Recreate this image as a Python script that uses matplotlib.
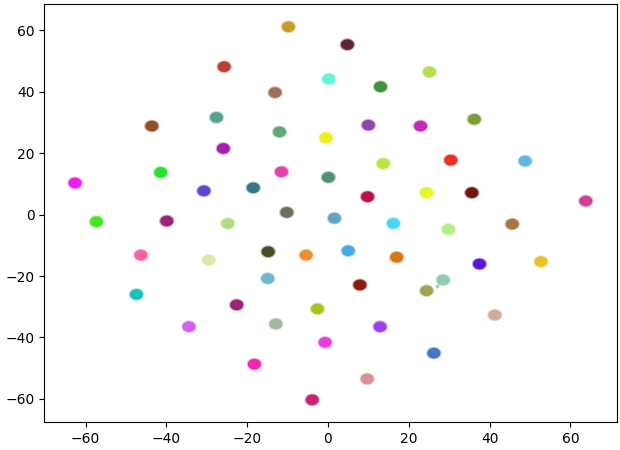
import matplotlib
matplotlib.use("Agg")
import matplotlib.pyplot as plt
from matplotlib.path import Path
import numpy as np

# cluster centres (x, y) and colours
xs = [-25.7, -27.6, -43.6, -25.9, -41.4, -62.6, -30.7,
      -9.8, 4.8, 0.2, 13.0, 25.1, -13.1, -12.0, -0.5, 10.0, 22.9, 13.7, -11.5, 0.1, -18.5, 9.8, 24.4, -10.2,
      36.2, 30.4, 48.8, 35.6, 63.8,
      -57.3, -39.9, -24.8, -46.3, -29.5, -47.4, -22.6, -34.4,
      1.6, 16.2, -14.8, -5.4, 5.0, 17.0, -14.9, 7.9, 24.4, -2.6, -12.9, 12.9, -0.7, -18.2, 9.7, -3.9,
      29.8, 45.6, 37.5, 52.7, 28.5, 41.3, 26.2]
ys = [48.1, 31.6, 28.8, 21.5, 13.7, 10.3, 7.7,
      61.1, 55.3, 44.1, 41.6, 46.4, 39.7, 26.9, 25.0, 29.1, 28.8, 16.6, 13.9, 12.1, 8.7, 5.8, 7.1, 0.7,
      31.0, 17.7, 17.4, 7.1, 4.4,
      -2.3, -2.1, -2.9, -13.2, -14.8, -26.0, -29.4, -36.5,
      -1.2, -2.9, -12.1, -13.2, -11.8, -13.9, -20.8, -22.9, -24.8, -30.7, -35.6, -36.5, -41.6, -48.7, -53.5, -60.3,
      -4.8, -3.1, -16.1, -15.3, -21.3, -32.7, -45.1]
colors = ["#b83a2e", "#4f9e8a", "#8b4a1f", "#a117b0", "#22e02a", "#ee14ee", "#5b3fd0",
          "#c49a20", "#5a1a30", "#5ef5d8", "#3a8f30", "#b3dc4a", "#9a6a55", "#5aa870", "#eeee10",
          "#8a40b0", "#c520b8", "#b5e83a", "#e83aa8", "#4a8f6a", "#2a7380", "#b80a40", "#e5f522", "#6a6a55",
          "#7a9a30", "#e82a1a", "#5ab4e0", "#6a1008", "#d03a90",
          "#3ae818", "#9a1a70", "#a8e080", "#ff5aa0", "#dde8a8", "#10c0b8", "#9a1a70", "#d45ae8",
          "#5a9fc0", "#3ad8f5", "#3a4a1a", "#f08a2a", "#40a8e0", "#d8720a", "#6ab4d0", "#8a1208",
          "#a0a050", "#aac210", "#9ab89a", "#9a3af0", "#e83ad8", "#f020b0", "#d88a98", "#c81a70",
          "#b0f080", "#a0743a", "#5010d8", "#e8c020", "#90c8b0", "#d0a898", "#4070c0"]

# small stray point
stray_x = [27.1]
stray_y = [-23.3]
stray_c = ["#90c8b0"]

# slightly wide blob-shaped marker
t = np.linspace(0, 2 * np.pi, 40)
blob = Path(np.column_stack([np.cos(t), 0.82 * np.sin(t)]), closed=True)

fig = plt.figure(figsize=(6.2, 4.5), dpi=100)
ax = fig.add_axes([0.0715, 0.0616, 0.9235, 0.9294])
ax.scatter(xs, ys, c=colors, s=125, marker=blob, alpha=0.35, linewidths=0)
ax.scatter(xs, ys, c=colors, s=88, marker=blob, alpha=0.95, linewidths=0)
ax.scatter(stray_x, stray_y, c=stray_c, s=8, alpha=0.8, linewidths=0)
ax.set_xlim(-70.2, 71.5)
ax.set_ylim(-67.6, 68.5)
ax.set_xticks([-60, -40, -20, 0, 20, 40, 60])
ax.set_yticks([-60, -40, -20, 0, 20, 40, 60])
fig.savefig("out.png", dpi=100)
